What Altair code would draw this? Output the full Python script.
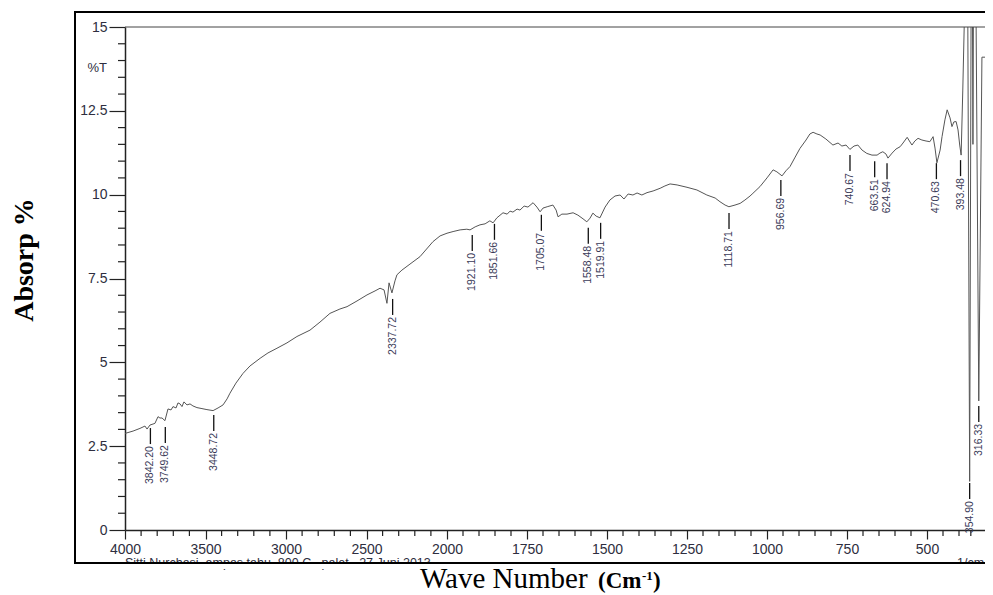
import altair as alt
import pandas as pd

# ---------------- data ----------------
wn = [4000, 3950, 3907, 3876, 3863, 3845, 3826, 3814, 3795, 3783, 3770, 3752, 3733, 3714,
      3702, 3683, 3671, 3658, 3646, 3634, 3615, 3596, 3578, 3553, 3522, 3491, 3453, 3422,
      3391, 3366, 3348, 3311, 3267, 3224, 3161, 3112, 3056, 2994, 2932, 2851, 2789, 2727,
      2665, 2621, 2559, 2497, 2447, 2416, 2391, 2373, 2360, 2342, 2323, 2311, 2280, 2230,
      2168, 2087, 2043, 2000, 1981, 1959, 1938, 1928, 1912, 1897, 1881, 1866, 1856, 1844,
      1825, 1812, 1803, 1794, 1781, 1772, 1759, 1747, 1731, 1719, 1709, 1700, 1687, 1669,
      1659, 1653, 1641, 1625, 1606, 1591, 1575, 1563, 1553, 1544, 1534, 1522, 1506, 1491,
      1475, 1459, 1447, 1434, 1419, 1406, 1391, 1375, 1356, 1334, 1319, 1303, 1281, 1250,
      1219, 1188, 1162, 1147, 1131, 1119, 1100, 1084, 1069, 1053, 1044, 1022, 1000, 981,
      969, 953, 941, 928, 912, 897, 878, 866, 856, 844, 834, 816, 794, 778, 766, 753, 741,
      728, 716, 703, 688, 672, 656, 647, 638, 628, 622, 609, 597, 584, 575, 562, 553, 547,
      538, 528, 516, 503, 491, 481, 475, 469, 459, 453, 444, 437, 428, 422, 416, 409, 403,
      397, 391, 384, 378, 372, 364, 354.9, 348, 344, 341, 338, 330, 316.33, 303, 290]
pct = [2.88, 2.95, 3.03, 3.10, 3.01, 3.13, 3.16, 3.18, 3.38, 3.34, 3.34, 3.26, 3.61, 3.58,
       3.68, 3.64, 3.79, 3.76, 3.68, 3.82, 3.73, 3.76, 3.70, 3.65, 3.62, 3.59, 3.56, 3.64,
       3.73, 3.91, 4.08, 4.38, 4.67, 4.89, 5.12, 5.28, 5.42, 5.58, 5.77, 5.96, 6.20, 6.46,
       6.59, 6.66, 6.83, 7.01, 7.13, 7.21, 7.16, 6.76, 7.37, 7.07, 7.43, 7.61, 7.75, 7.93,
       8.15, 8.60, 8.77, 8.85, 8.90, 8.95, 8.97, 8.95, 9.04, 9.10, 9.13, 9.22, 9.16, 9.31,
       9.46, 9.42, 9.51, 9.48, 9.57, 9.54, 9.66, 9.63, 9.76, 9.63, 9.49, 9.60, 9.64, 9.69,
       9.54, 9.34, 9.42, 9.42, 9.46, 9.39, 9.28, 9.19, 9.30, 9.45, 9.36, 9.31, 9.63, 9.84,
       9.96, 9.99, 9.87, 10.02, 9.99, 10.05, 9.99, 10.06, 10.11, 10.19, 10.26, 10.32, 10.29, 10.22,
       10.14, 9.99, 9.90, 9.79, 9.69, 9.64, 9.69, 9.74, 9.84, 9.96, 10.04, 10.24, 10.50, 10.74,
       10.68, 10.56, 10.71, 10.84, 11.12, 11.38, 11.63, 11.81, 11.86, 11.81, 11.78, 11.66, 11.48, 11.54, 11.45, 11.48, 11.35,
       11.45, 11.48, 11.33, 11.23, 11.18, 11.18, 11.24, 11.28, 11.21, 11.09, 11.24, 11.36, 11.43, 11.54, 11.71, 11.57, 11.48,
       11.60, 11.68, 11.63, 11.60, 11.58, 11.73, 11.39, 10.95, 11.33, 11.73, 12.23, 12.53, 12.29, 12.03, 12.17, 12.18, 11.93,
       11.48, 11.18, 13.12, 15.0, 17.5, 17.5, 1.45, 17.5, 17.5, 11.5, 17.5, 17.5, 3.85, 14.1, 14.1]

peak_wn = [3842.20, 3749.62, 3448.72, 2337.72, 1921.10, 1851.66, 1705.07, 1558.48, 1519.91,
           1118.71, 956.69, 740.67, 663.51, 624.94, 470.63, 393.48, 354.90, 316.33]
peak_top = [3.04, 3.07, 3.43, 6.89, 8.80, 9.13, 9.40, 9.01, 9.16,
            9.45, 10.44, 11.18, 11.00, 10.94, 10.94, 11.03, 1.40, 3.70]
peak_text = ["3842.20", "3749.62", "3448.72", "2337.72", "1921.10", "1851.66", "1705.07",
             "1558.48", "1519.91", "1118.71", "956.69", "740.67", "663.51", "624.94",
             "470.63", "393.48", "354.90", "316.33"]

x_major = [4000, 3500, 3000, 2500, 2000, 1750, 1500, 1250, 1000, 750, 500]
x_minor = [3900, 3800, 3700, 3600, 3400, 3300, 3200, 3100, 2900, 2800, 2700, 2600,
           2400, 2300, 2200, 2100, 1950, 1900, 1850, 1800, 1700, 1650, 1600, 1550,
           1450, 1400, 1350, 1300, 1200, 1150, 1100, 1050, 950, 900, 850, 800,
           700, 650, 600, 550, 450, 400, 350]
y_major = [0, 2.5, 5, 7.5, 10, 12.5, 15]
y_minor = [0.5, 1, 1.5, 2, 3, 3.5, 4, 4.5, 5.5, 6, 6.5, 7, 8, 8.5, 9, 9.5,
           10.5, 11, 11.5, 12, 13, 13.5, 14, 14.5]

# ---------------- chart ----------------
W, H = 860, 503
AX = "#222222"
LAB = "#2e2e40"

xscale = alt.Scale(domain=[4000, 2000, 400, 290], range=[0, 322, 834, W], nice=False, zero=False)
yscale = alt.Scale(domain=[0, 15], nice=False, zero=False)
xaxis = alt.Axis(values=x_major, title=None, grid=False, tickSize=9, labelPadding=3,
                 labelFontSize=14, labelFont="Liberation Sans", labelColor=LAB,
                 labelExpr="'' + datum.value", labelOverlap=False, labelFlush=False,
                 domainColor=AX, domainWidth=1.5, tickColor=AX, tickWidth=1.2)
yaxis = alt.Axis(values=y_major, title=None, grid=False, tickSize=16, labelPadding=2,
                 labelFontSize=14, labelFont="Liberation Sans", labelColor=LAB,
                 labelExpr="'' + datum.value", labelOverlap=False, labelFlush=False,
                 domainColor=AX, domainWidth=1.5, tickColor=AX, tickWidth=1.2)
X = alt.X("wn:Q", scale=xscale, axis=xaxis)
Y = alt.Y("v:Q", scale=yscale, axis=yaxis)

spec_df = pd.DataFrame({"wn": wn, "v": pct, "i": range(len(wn))})
spectrum = alt.Chart(spec_df).mark_line(color="#555555", strokeWidth=1, clip=True).encode(
    x=X, y=Y, order="i:Q")

peak_df = pd.DataFrame({"wn": peak_wn, "v": peak_top, "label": peak_text})
peak_lines = alt.Chart(peak_df).mark_rule(color="#111111", strokeWidth=1.3, yOffset=0,
                                          y2Offset=16).encode(x=X, y=Y, y2="v:Q")
peak_labels = alt.Chart(peak_df).mark_text(angle=270, align="right", baseline="middle",
                                           yOffset=18, fontSize=10.5, font="Liberation Sans",
                                           color="#3a3a58").encode(x=X, y=Y, text="label:N")

xminor_df = pd.DataFrame({"wn": x_minor})
xminor = alt.Chart(xminor_df).mark_rule(color=AX, strokeWidth=1.2).encode(
    x=X, y=alt.value(H), y2=alt.value(H + 6))
yminor_df = pd.DataFrame({"v": y_minor})
yminor = alt.Chart(yminor_df).mark_rule(color=AX, strokeWidth=1.2).encode(
    y=Y, x=alt.value(-7), x2=alt.value(0))

one = pd.DataFrame({"k": [0]})
top_line = alt.Chart(one).mark_rule(color="#444444", strokeWidth=1).encode(
    x=alt.value(0), x2=alt.value(W + 10), y=alt.value(0))


def label(text, x, y, **kw):
    return alt.Chart(pd.DataFrame({"t": [text]})).mark_text(**kw).encode(
        x=alt.value(x), y=alt.value(y), text="t:N")


pct_t = label("%T", -18, 41, align="right", baseline="middle", fontSize=13,
              font="Liberation Sans", color=LAB)
footer = label("Sitti Nurchasi, ampas tahu, 800 C , palet , 27 Juni 2013", 0, 540,
               align="left", baseline="alphabetic", fontSize=12.5,
               font="Liberation Sans", color=LAB)
unit = label("1/cm", 832, 540, align="left", baseline="alphabetic", fontSize=12.5,
             font="Liberation Sans", color=LAB)
mask = alt.Chart(one).mark_rect(color="white").encode(
    x=alt.value(-49), x2=alt.value(W + 10), y=alt.value(537), y2=alt.value(542))
box_l = alt.Chart(one).mark_rule(color="black", strokeWidth=2).encode(
    x=alt.value(-50), y=alt.value(-15), y2=alt.value(536))
box_t = alt.Chart(one).mark_rule(color="black", strokeWidth=2).encode(
    x=alt.value(-51), x2=alt.value(W + 10), y=alt.value(-15))
box_b = alt.Chart(one).mark_rule(color="black", strokeWidth=2).encode(
    x=alt.value(-51), x2=alt.value(W + 10), y=alt.value(536))

ytitle = label("Absorp %", -100, 233, angle=270, align="center", baseline="middle",
               fontSize=28, font="Liberation Serif", fontWeight="bold", color="black")
xt1 = label("Wave Number", 295, 561, align="left", baseline="alphabetic", fontSize=29,
            font="Liberation Serif", color="black")
xt2 = label("(Cm", 473, 561, align="left", baseline="alphabetic", fontSize=23,
            font="Liberation Serif", fontWeight="bold", color="black")
xt3 = label("-1", 517, 553, align="left", baseline="alphabetic", fontSize=13,
            font="Liberation Serif", fontWeight="bold", color="black")
xt4 = label(")", 528, 561, align="left", baseline="alphabetic", fontSize=23,
            font="Liberation Serif", fontWeight="bold", color="black")

chart = alt.layer(
    spectrum, xminor, yminor, top_line, peak_lines, peak_labels, pct_t,
    footer, unit, mask, box_l, box_t, box_b, ytitle, xt1, xt2, xt3, xt4
).properties(
    width=W, height=H,
    autosize=alt.AutoSizeParams(type="none"),
    padding={"left": 117, "top": 19, "right": 0, "bottom": 65},
    background="white",
).configure_view(stroke=None)

chart.save("out.html", embed_options={"renderer": "svg", "actions": False})
